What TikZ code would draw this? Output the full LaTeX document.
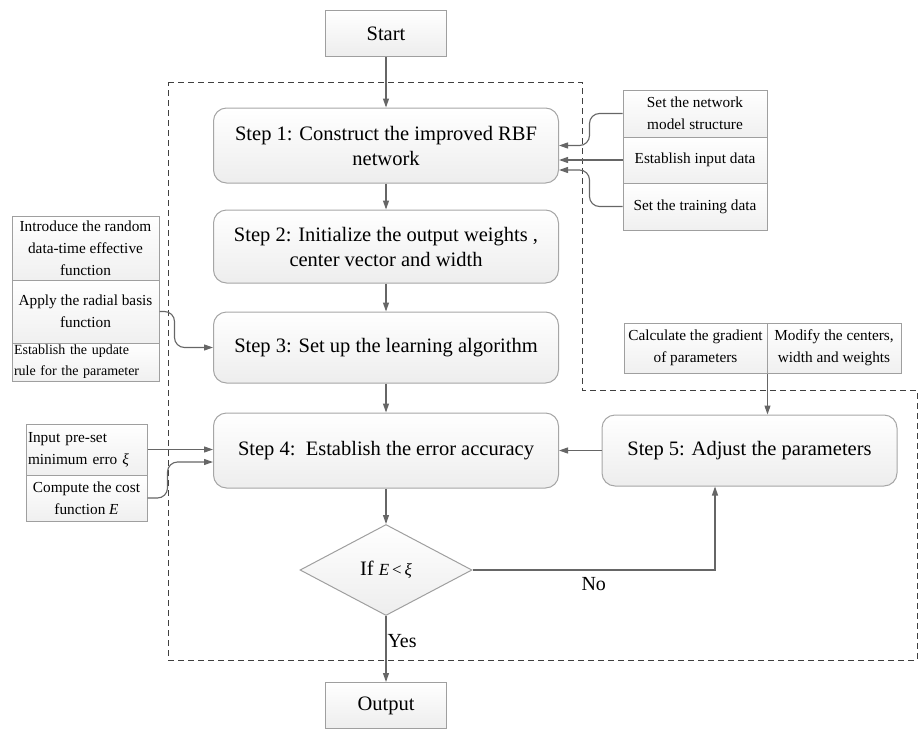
\documentclass[tikz,border=0pt]{standalone}
\usepackage{fontspec}
\setmainfont{LiberationSerif}[Extension=.ttf, UprightFont=*-Regular, ItalicFont=*-Italic, BoldFont=*-Bold, BoldItalicFont=*-BoldItalic]
\usetikzlibrary{arrows.meta,shapes.geometric,calc}
\begin{document}
\begin{tikzpicture}[x=1pt,y=-1pt,
  every node/.style={text=black},
  stepbox/.style={draw=gray!70, line width=1pt, rounded corners=13pt, top color=white, bottom color=gray!14, minimum width=345pt, align=center, font=\rmfamily\fontsize{20.5}{25}\selectfont, inner sep=0pt},
  cell/.style={draw=gray!75, line width=1pt, top color=white, bottom color=gray!12, inner sep=0pt, font=\rmfamily\fontsize{15.3}{22}\selectfont, align=center},
  termbox/.style={draw=gray!75, line width=1pt, top color=white, bottom color=gray!14, minimum width=121pt, minimum height=46pt, inner sep=0pt, font=\rmfamily\fontsize{20.5}{22}\selectfont},
  conn/.style={draw=gray!80!black, line width=1.1pt, -{Triangle[length=9pt,width=6pt]}},
  lbl/.style={font=\rmfamily\fontsize{20}{22}\selectfont},
  region/.style={draw=black!75, line width=1pt, dash pattern=on 6pt off 4pt}
]
\useasboundingbox (0,0) rectangle (919,731);

% dashed region
\draw[region] (168,82) -- (582,82) -- (582,390) -- (917,390) -- (917,660) -- (168,660) -- cycle;

% terminals
\node[termbox] (start) at (386,33.5) {Start};
\node[termbox] (out) at (386,705.5) {Output};

% main steps
\node[stepbox, minimum height=75pt] (s1) at (386,145.5) {Step 1: Construct the improved RBF\\network};
\node[stepbox, minimum height=73pt] (s2) at (386,246.5) {Step 2: Initialize the output weights ,\\center vector and width};
\node[stepbox, minimum height=71pt] (s3) at (386,347.5) {Step 3: Set up the learning algorithm};
\node[stepbox, minimum height=75pt] (s4) at (386,450.5) {Step 4:\ \ Establish the error accuracy};
\node[stepbox, minimum height=71pt, minimum width=295pt] (s5) at (749.5,450.5) {Step 5: Adjust the parameters};

% decision
\node[shape=diamond, draw=gray!75, line width=1pt, top color=white, bottom color=gray!14, minimum width=172pt, minimum height=91pt, inner sep=0pt, font=\rmfamily\fontsize{20.5}{22}\selectfont] (d) at (386,570) {If {\fontsize{17}{18}\selectfont\itshape E\upshape\,<\,\itshape ξ}\hspace{15pt}};

% right group
\node[cell, minimum width=144pt, minimum height=47pt] (r1) at (695,113.5) {Set the network\\model structure};
\node[cell, minimum width=144pt, minimum height=46pt] (r2) at (695,160) {Establish input data};
\node[cell, minimum width=144pt, minimum height=47pt] (r3) at (695,206.5) {Set the training data};

% left group
\node[cell, minimum width=147pt, minimum height=64pt] (l1) at (85.5,248) {Introduce the random\\data-time effective\\function};
\node[cell, minimum width=147pt, minimum height=63pt] (l2) at (85.5,311.5) {Apply the radial basis\\function};
\node[cell, minimum width=147pt, minimum height=38pt, text width=143pt, align=left, font=\rmfamily\fontsize{14}{21}\selectfont] (l3) at (85.5,362) {Establish the update\\rule for the parameter};

% calc group
\node[cell, minimum width=143pt, minimum height=50pt] (c1) at (695.5,348) {Calculate the gradient\\of parameters};
\node[cell, minimum width=134pt, minimum height=50pt] (c2) at (834,348) {Modify the centers,\\width and weights};

% input group
\node[cell, minimum width=121pt, minimum height=51pt, text width=117pt, align=left] (i1) at (86.5,449.5) {Input pre-set\\minimum erro {\itshape ξ}};
\node[cell, minimum width=121pt, minimum height=46pt] (i2) at (86.5,498) {Compute the cost\\function {\itshape E}};

% main flow
\draw[conn] (start) -- (s1);
\draw[conn] (s1) -- (s2);
\draw[conn] (s2) -- (s3);
\draw[conn] (s3) -- (s4);
\draw[conn] (s4) -- (d);
\draw[conn] (d) -- (out) node[lbl, pos=0.38, anchor=west, inner sep=1pt] {Yes};
\draw[conn] (d.east) -| ([xshift=-34.5pt]s5.south) node[lbl, pos=0.25, below=4pt] {No};
\draw[conn] (s5) -- (s4);
\draw[conn] (c1.south east) -- (c1.south east |- s5.north);

% side connectors
\draw[conn, rounded corners=10pt] (r1.west) -- ++(-33,0) |- (s1.east);
\draw[conn] (r2.west) -- (r2.west -| s1.east);
\draw[conn, rounded corners=10pt] (r3.west) -- ++(-33,0) |- ([yshift=-24.5pt]s1.east);
\draw[conn, rounded corners=10pt] (l2.east) -- ++(15,0) |- (s3.west);
\draw[conn] (i1.east) -- (i1.east -| s4.west);
\draw[conn, rounded corners=10pt] (i2.east) -- ++(20,0) |- ([yshift=-11.5pt]s4.west);
\end{tikzpicture}
\end{document}
